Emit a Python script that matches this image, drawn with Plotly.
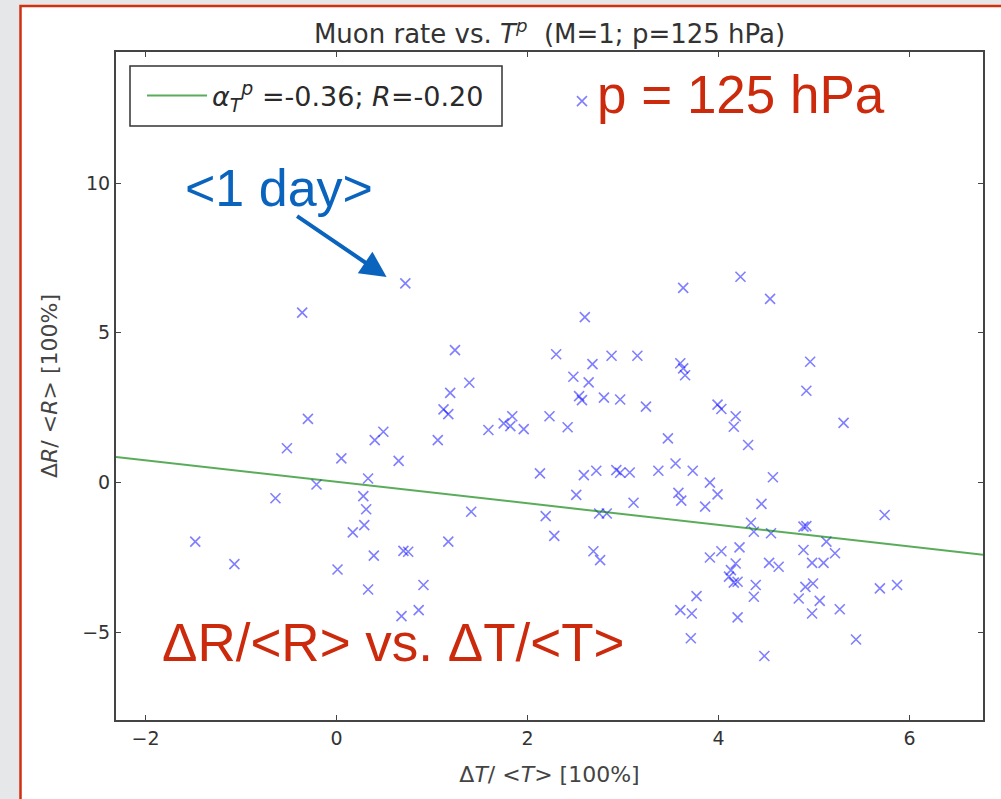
import plotly.graph_objects as go

# ---- data ----
dT = [0.72, -0.36, 1.24, 1.39, 1.19, 1.12, 1.17, -0.30, 0.49, 0.40,
      1.59, 1.06, -0.52, 0.05, 0.65, 0.33, -0.21, -0.64, 0.28, 0.31,
      1.41, 0.29, 0.17, -1.48, 1.17, 0.70, 0.75, -1.07, 0.39, 0.01,
      0.91, 0.33, 0.86, 0.68,
      2.57, 4.23, 3.63, 4.54, 2.60, 4.96, 4.92, 2.30, 2.68, 2.88,
      3.15, 3.60, 3.63, 3.65, 2.48, 2.64, 2.54, 2.57, 2.80, 2.97,
      3.24, 3.99, 4.03, 4.18, 4.16, 4.31, 5.31, 1.75, 1.84, 1.82,
      1.96, 2.23, 2.42, 3.47, 2.13, 2.59, 2.72, 2.93, 2.97, 3.07,
      3.37, 3.55, 3.73, 3.91, 3.99, 3.58, 3.61, 3.86, 2.51, 3.11,
      2.19, 2.75, 2.83, 4.57, 4.45, 5.74, 4.34, 4.37, 4.55, 4.89,
      4.92, 5.13, 5.22, 5.10, 4.98, 4.89, 4.22, 4.03, 3.91, 4.18,
      4.13, 4.11, 4.16, 4.20, 4.53, 4.63, 4.39, 4.37, 4.91, 4.99,
      4.84, 5.06, 4.98, 5.27, 5.69, 5.87, 3.77, 3.72, 3.60, 3.71,
      4.20, 5.44, 4.48, 2.28, 2.69, 2.76]
dR = [6.65, 5.67, 4.42, 3.33, 2.99, 2.44, 2.28, 2.12, 1.69, 1.41,
      1.75, 1.41, 1.14, 0.80, 0.72, 0.13, -0.07, -0.53, -0.46, -0.90,
      -0.98, -1.43, -1.67, -1.98, -1.98, -2.29, -2.32, -2.73, -2.45, -2.91,
      -3.43, -3.58, -4.27, -4.47,
      12.74, 6.87, 6.50, 6.13, 5.52, 4.03, 3.06, 4.28, 3.95, 4.23,
      4.23, 3.98, 3.81, 3.58, 3.53, 3.34, 2.88, 2.75, 2.83, 2.77,
      2.53, 2.60, 2.45, 2.21, 1.86, 1.25, 1.99, 1.97, 2.21, 1.88,
      1.78, 2.21, 1.84, 1.47, 0.30, 0.24, 0.39, 0.41, 0.32, 0.33,
      0.39, 0.63, 0.39, -0.01, -0.40, -0.35, -0.61, -0.81, -0.42, -0.68,
      -1.13, -1.04, -1.04, 0.17, -0.72, -1.09, -1.35, -1.65, -1.70, -1.48,
      -1.46, -1.98, -2.37, -2.69, -2.69, -2.26, -2.17, -2.30, -2.51, -2.71,
      -2.93, -3.15, -3.35, -3.32, -2.69, -2.82, -3.43, -3.82, -3.49, -3.38,
      -3.88, -3.96, -4.38, -4.24, -3.54, -3.43, -3.80, -4.38, -4.27, -5.21,
      -4.51, -5.25, -5.80, -1.79, -2.30, -2.60]

fit_slope = -0.36
fit_intercept = 0.02
fit_label = "<i>α</i><sub><i>T</i></sub><sup><i>p</i></sup> =-0.36; <i>R</i>=-0.20"

x_range = [-2.31, 6.77]
y_range = [-7.94, 14.38]
x_tick_vals = [-2, 0, 2, 4, 6]
x_tick_text = ["−2", "0", "2", "4", "6"]
y_tick_vals = [-5, 0, 5, 10]
y_tick_text = ["−5", "0", "5", "10"]

fit_x = [x_range[0], x_range[1]]
fit_y = [fit_intercept + fit_slope * v for v in fit_x]

fig = go.Figure()
fig.add_trace(go.Scatter(
    x=dT, y=dR, mode="markers", showlegend=False,
    marker=dict(symbol="x-thin", size=10, color="rgba(0,0,255,0.5)",
                line=dict(width=1.6, color="rgba(0,0,255,0.5)")),
))
fig.add_trace(go.Scatter(
    x=fit_x, y=fit_y, mode="lines", name=fit_label,
    line=dict(color="rgba(0,128,0,0.65)", width=2),
))

W, H = 1001, 799
L, R, T, B = 116, 18, 52, 79
pw, ph = W - L - R, H - T - B


def px(xp):
    return (xp - L) / pw


def py(yp):
    return (H - B - yp) / ph


axis_common = dict(
    showgrid=False, zeroline=False, showline=True, linecolor="#444",
    linewidth=2, mirror="allticks", ticks="inside", ticklen=5,
    tickwidth=1, tickcolor="#444",
    tickfont=dict(family="DejaVu Sans", size=19, color="#333"),
)

fig.update_layout(
    width=W, height=H,
    margin=dict(l=L, r=R, t=T, b=B),
    paper_bgcolor="#e6e7e9",
    plot_bgcolor="white",
    title=dict(text="Muon rate vs. <i>T</i><sup><i>p</i></sup>  (M=1; p=125 hPa)",
               x=0.5, xref="paper", xanchor="center",
               y=1 - 34 / H, yanchor="middle",
               font=dict(family="DejaVu Sans", size=26, color="#333")),
    xaxis=dict(range=x_range, tickvals=x_tick_vals, ticktext=x_tick_text,
               title=dict(text="Δ<i>T</i>/ &lt;<i>T</i>&gt; [100%]", standoff=19,
                          font=dict(family="DejaVu Sans", size=22, color="#444")),
               **axis_common),
    yaxis=dict(range=y_range, tickvals=y_tick_vals, ticktext=y_tick_text,
               title=dict(text="Δ<i>R</i>/ &lt;<i>R</i>&gt; [100%]", standoff=18,
                          font=dict(family="DejaVu Sans", size=22, color="#444")),
               **axis_common),
    showlegend=True,
    legend=dict(x=px(142), y=py(96), xanchor="left", yanchor="middle",
                bgcolor="rgba(0,0,0,0)", borderwidth=0, itemwidth=60,
                font=dict(family="DejaVu Sans", size=27, color="#2a2a2a")),
    shapes=[
        dict(type="rect", xref="paper", yref="paper", layer="below",
             x0=px(20.5), x1=px(1012), y0=py(812), y1=py(6),
             line=dict(color="#d0300f", width=2.5), fillcolor="white"),
        dict(type="rect", xref="paper", yref="paper", layer="above",
             x0=px(130), x1=px(502), y0=py(126), y1=py(66),
             line=dict(color="#333", width=1.5), fillcolor="rgba(0,0,0,0)"),
    ],
    annotations=[
        dict(text="p = 125 hPa", xref="paper", yref="paper",
             x=px(595), y=py(94.5), xanchor="left", yanchor="middle",
             showarrow=False,
             font=dict(family="Liberation Sans", size=53, color="#cc2a0c")),
        dict(text="&lt;1 day&gt;", xref="paper", yref="paper",
             x=px(183), y=py(188), xanchor="left", yanchor="middle",
             showarrow=False,
             font=dict(family="Liberation Sans", size=52, color="#0a64be")),
        dict(text="ΔR/&lt;R&gt; vs. ΔT/&lt;T&gt;", xref="paper", yref="paper",
             x=px(160), y=py(642.6), xanchor="left", yanchor="middle",
             showarrow=False,
             font=dict(family="Liberation Sans", size=53, color="#cc2a0c")),
        dict(text="", x=0.524, y=6.86, xref="x", yref="y",
             showarrow=True, ax=-91, ay=-62, arrowhead=2, arrowsize=1.3,
             arrowwidth=4, arrowcolor="#0a64be", standoff=0),
    ],
)

fig.write_html("out.html",
               config={"displayModeBar": False},
               post_script="document.body.style.margin='0';"
                           "document.documentElement.style.overflow='hidden';")
